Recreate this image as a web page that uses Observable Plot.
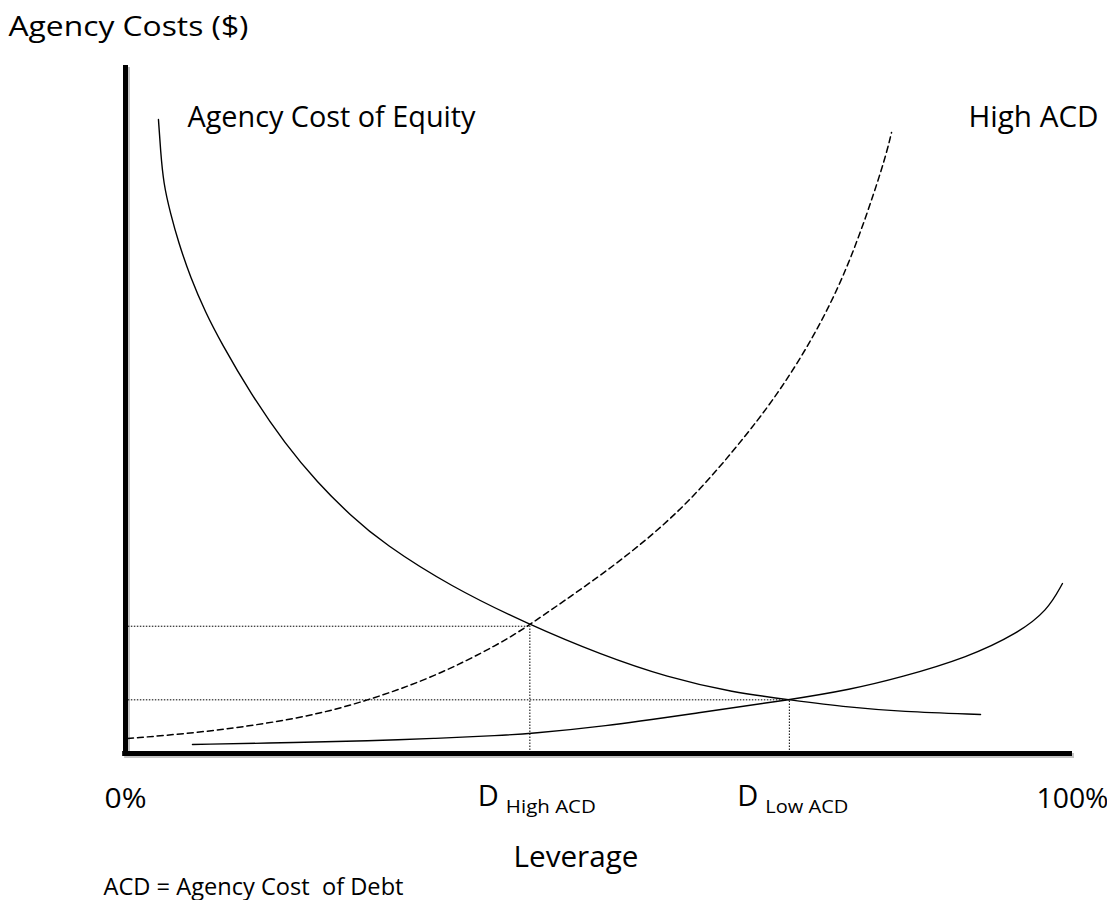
<!DOCTYPE html>
<html><head><meta charset="utf-8">
<script src="https://cdn.jsdelivr.net/npm/d3@7"></script>
<script src="https://cdn.jsdelivr.net/npm/@observablehq/plot@0.6"></script>
<style>html,body{margin:0;padding:0;background:#fff;} svg{display:block;}</style>
</head><body><div id="chart"></div>
<script>
// Agency cost of equity (leverage %, cost)
const equityX = [3.48, 3.70, 4.01, 4.75, 5.60, 6.86, 8.45, 10.03, 13.20, 16.90, 20.27, 23.76, 27.24, 34.32, 42.66, 50.16, 57.23, 64.20, 70.12, 76.56, 81.84, 90.29];
const equityY = [92.15, 87.65, 82.85, 78.49, 74.27, 69.19, 64.10, 59.88, 52.33, 44.91, 39.39, 34.59, 30.52, 24.27, 18.7, 14.39, 11.05, 8.87, 7.8, 6.69, 6.10, 5.67];
// High agency cost of debt (dashed)
const highX = [0.21, 7.92, 14.99, 20.59, 25.55, 32.52, 39.60, 42.66, 45.93, 52.27, 59.35, 66.00, 69.48, 73.07, 76.56, 80.04, 80.89];
const highY = [2.18, 3.05, 4.36, 5.81, 7.70, 11.05, 15.99, 18.7, 21.80, 27.91, 36.05, 46.95, 53.49, 61.48, 71.37, 85.47, 90.26];
// Low agency cost of debt
const lowX = [7.07, 18.48, 25.55, 32.52, 39.60, 42.77, 50.16, 60.72, 70.12, 76.56, 81.84, 88.91, 94.19, 97.36, 98.94];
const lowY = [1.31, 1.60, 1.82, 2.18, 2.62, 2.91, 3.85, 5.96, 7.8, 9.30, 11.05, 13.95, 17.44, 20.78, 24.71];
// Optimal leverage points
const dValues = [42.7, 70.1];
const dCosts = [18.5, 7.8];
const dSubs = ["High ACD", "Low ACD"];
// Axis tick labels
const tickValues = [0, 100];
const tickLabels = ["0%", "100%"];

const toPts = (xs, ys) => xs.map((x, i) => ({x, y: ys[i]}));
const equity = toPts(equityX, equityY);
const high = toPts(highX, highY);
const low = toPts(lowX, lowY);
const guides = dValues.map((lev, i) => ({lev, cost: dCosts[i]}));

const font = "'Open Sans', sans-serif";
const chart = Plot.plot({
  width: 1107, height: 900,
  marginLeft: 125, marginRight: 35, marginTop: 65, marginBottom: 147,
  x: {domain: [0, 100], axis: null},
  y: {domain: [0, 100], axis: null},
  style: {fontFamily: font, background: "#fff", color: "#000"},
  marks: [
    Plot.ruleX([0], {y1: -0.37, y2: 100, stroke: "#c4c4c4", strokeWidth: 5, dx: 2, dy: 2}),
    Plot.ruleY([0], {x1: -0.3, x2: 100, stroke: "#c4c4c4", strokeWidth: 5, dx: 2, dy: 2}),
    Plot.ruleY(guides, {y: "cost", x1: 0.3, x2: "lev", stroke: "#000", strokeWidth: 1, strokeDasharray: "1.5,1.5"}),
    Plot.ruleX(guides, {x: "lev", y1: 0, y2: "cost", stroke: "#000", strokeWidth: 1, strokeDasharray: "1.5,1.5"}),
    Plot.line(equity, {x: "x", y: "y", curve: "basis", stroke: "#000", strokeWidth: 1.4}),
    Plot.line(high, {x: "x", y: "y", curve: "basis", stroke: "#000", strokeWidth: 1.5, strokeDasharray: "6,4"}),
    Plot.line(low, {x: "x", y: "y", curve: "basis", stroke: "#000", strokeWidth: 1.4}),
    Plot.ruleX([0], {y1: -0.37, y2: 100, stroke: "#000", strokeWidth: 5}),
    Plot.ruleY([0], {x1: -0.3, x2: 100, stroke: "#000", strokeWidth: 5}),
    Plot.text(["Agency Costs ($)"], {frameAnchor: "top-left", textAnchor: "start", lineAnchor: "bottom", dx: -117, dy: -30, fontSize: 27, fill: "#000"}),
    Plot.text(["Agency Cost of Equity"], {frameAnchor: "top-left", textAnchor: "start", lineAnchor: "bottom", dx: 62, dy: 61, fontSize: 29, fill: "#000"}),
    Plot.text(["High ACD"], {frameAnchor: "top-right", textAnchor: "end", lineAnchor: "bottom", dx: 26, dy: 61, fontSize: 29, fill: "#000"}),
    Plot.text(tickValues, {x: d => d, text: (d, i) => tickLabels[i], frameAnchor: "bottom", textAnchor: "middle", lineAnchor: "bottom", dy: 54, fontSize: 28, fill: "#000"}),
    Plot.text(dValues, {x: d => d, text: () => "D", frameAnchor: "bottom", textAnchor: "start", lineAnchor: "bottom", dx: -52, dy: 52, fontSize: 29, fill: "#000"}),
    Plot.text(dValues, {x: d => d, text: (d, i) => dSubs[i], frameAnchor: "bottom", textAnchor: "start", lineAnchor: "bottom", dx: -24, dy: 59, fontSize: 19, fill: "#000"}),
    Plot.text(["Leverage"], {frameAnchor: "bottom", textAnchor: "middle", lineAnchor: "bottom", dx: -23, dy: 113, fontSize: 29, fill: "#000"}),
    Plot.text(["ACD = Agency Cost\u00a0 of Debt"], {frameAnchor: "bottom-left", textAnchor: "start", lineAnchor: "bottom", dx: -22, dy: 141, fontSize: 24, fill: "#000"})
  ]
});
document.getElementById("chart").appendChild(chart);
// fit label widths to the reference's narrow face
const widths = {"Agency Costs ($)": 240, "Agency Cost of Equity": 288, "High ACD": 130, "Leverage": 125, "0%": 42, "100%": 72};
const subWidths = {"High ACD": 90, "Low ACD": 83};
chart.querySelectorAll("text").forEach(t => {
  const size = parseFloat(t.getAttribute("font-size") || t.parentNode.getAttribute("font-size"));
  let w = widths[t.textContent];
  if (size < 22) w = subWidths[t.textContent];
  if (t.textContent.startsWith("ACD =")) w = 300;
  if (w) { t.setAttribute("textLength", w); t.setAttribute("lengthAdjust", "spacingAndGlyphs"); }
});
</script></body></html>
